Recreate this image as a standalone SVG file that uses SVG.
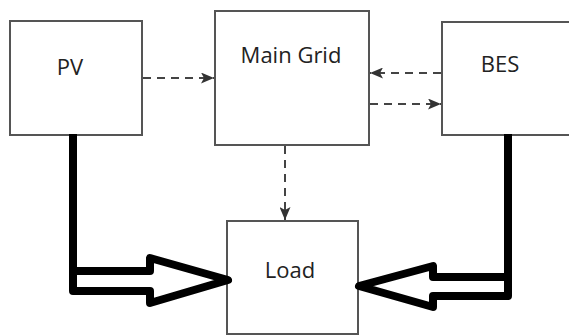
<svg xmlns="http://www.w3.org/2000/svg" width="569" height="335" viewBox="0 0 569 335">
<style>
.box{fill:#fff;stroke:#555;stroke-width:2}
.lbl{font-family:"Open Sans","Liberation Sans",sans-serif;font-size:22px;fill:#222;text-anchor:middle}
.dash{fill:none;stroke:#444;stroke-width:2;stroke-dasharray:8 6}
.thick{fill:none;stroke:#000;stroke-width:8;stroke-linejoin:round;stroke-linecap:square}
</style>
<defs>
<marker id="ah" markerUnits="userSpaceOnUse" markerWidth="13" markerHeight="11" viewBox="0 0 13 11" refX="13" refY="5.5" orient="auto">
<path d="M0,0 L13,5.5 L0,11 L3,5.5 z" fill="#333"/>
</marker>
</defs>
<rect width="569" height="335" fill="#fff"/>
<g id="pv"><rect class="box" x="10" y="21" width="132" height="114"/><text class="lbl" x="70" y="75">PV</text></g>
<g id="grid"><rect class="box" x="215" y="11" width="154" height="134"/><text class="lbl" x="291" y="63">Main Grid</text></g>
<g id="bes"><rect class="box" x="442" y="22" width="140" height="113"/><text class="lbl" x="500" y="72">BES</text></g>
<g id="load"><rect class="box" x="227" y="221" width="131" height="113"/><text class="lbl" x="290" y="278">Load</text></g>
<g id="connectors">
<line class="dash" x1="143" y1="78" x2="214" y2="78" marker-end="url(#ah)"/>
<line class="dash" x1="441" y1="73" x2="370" y2="73" marker-end="url(#ah)"/>
<line class="dash" x1="370" y1="104" x2="441" y2="104" marker-end="url(#ah)"/>
<line class="dash" x1="285" y1="146" x2="285" y2="220" marker-end="url(#ah)"/>
<path class="thick" d="M73,138 V291 H150 V303 L228,280 L150,258 V271 H73"/>
<path class="thick" d="M508,138 V296 H433 V307 L359,286 L433,266 V277 H508"/>
</g>
</svg>
